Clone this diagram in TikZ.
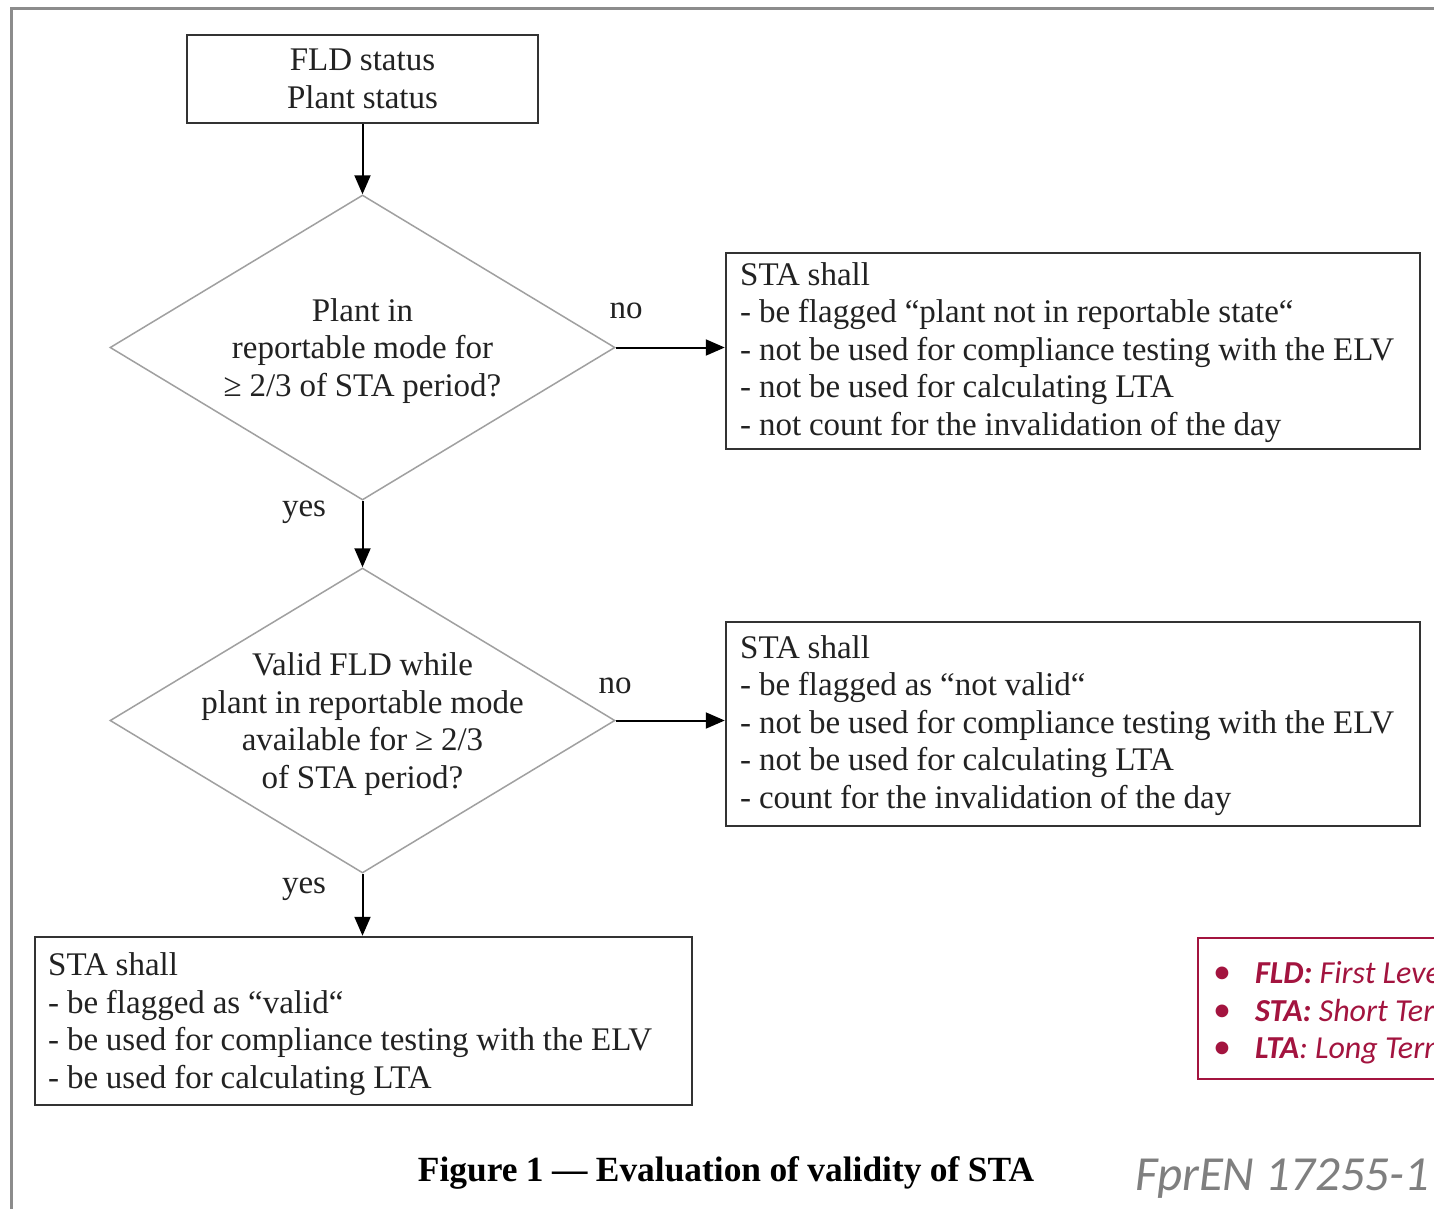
\documentclass[tikz,border=0pt]{standalone}
\usepackage{fontspec}
\setmainfont[WordSpace=0.95]{Liberation Serif}
\newfontfamily\calib{Carlito}
\usetikzlibrary{shapes.geometric,arrows.meta}
\definecolor{txt}{HTML}{222222}
\definecolor{boxc}{HTML}{333333}
\definecolor{dgray}{HTML}{A0A0A0}
\definecolor{frame}{HTML}{8C8C8C}
\definecolor{crim}{HTML}{A3143F}
\definecolor{wm}{HTML}{7F7F7F}
\newcommand\bodyfont{\fontsize{33pt}{37.5pt}\selectfont}
\begin{document}
\begin{tikzpicture}[x=1pt,y=-1pt,
  box/.style={draw=boxc, line width=2.5pt, inner sep=0pt, font=\bodyfont, text=txt},
  btext/.style={font=\bodyfont, text=txt, align=left, inner sep=0pt, anchor=west},
  decision/.style={diamond, draw=dgray, line width=1.5pt, minimum width=505pt, minimum height=305pt, inner sep=0pt, aspect=1.656},
  dtext/.style={font=\bodyfont, text=txt, align=center, inner sep=0pt},
  lbl/.style={font=\bodyfont, text=txt, inner sep=0pt, anchor=base},
  arr/.style={draw=black, line width=2pt, -{Triangle[length=19pt,width=16pt]}},
  legtxt/.style={font=\calib\fontsize{32pt}{37.5pt}\selectfont\itshape, text=crim, inner sep=0pt, anchor=base west},
  bul/.style={font=\calib\fontsize{36pt}{37.5pt}\selectfont, text=crim, inner sep=0pt, anchor=base}
]
\useasboundingbox (0,0) rectangle (1434,1208);
\clip (0,0) rectangle (1434,1208);
\fill[white] (0,0) rectangle (1434,1208);
% outer frame
\draw[frame, line width=3pt] (11,1220) -- (11,8) -- (1450,8);

% boxes
\node[box, align=center, minimum width=351pt, minimum height=88pt] (b1) at (362.5,79) {FLD status\\Plant status};
\node[box, minimum width=694pt, minimum height=196pt] (b2) at (1073,351) {};
\node[btext] (b2t) at (740,352.5) {STA shall\\
- be flagged “plant not in reportable state“\\
- not be used for compliance testing with the ELV\\
- not be used for calculating LTA\\
- not count for the invalidation of the day};
\node[box, minimum width=694pt, minimum height=204pt] (b3) at (1073,724) {};
\node[btext] (b3t) at (740,725.5) {STA shall\\
- be flagged as “not valid“\\
- not be used for compliance testing with the ELV\\
- not be used for calculating LTA\\
- count for the invalidation of the day};
\node[box, minimum width=657pt, minimum height=168pt] (b4) at (363.5,1021) {};
\node[btext] (b4t) at (48,1024) {STA shall\\
- be flagged as “valid“\\
- be used for compliance testing with the ELV\\
- be used for calculating LTA};

% decisions
\node[decision] (d1) at (362.5,347.5) {};
\node[dtext] (d1t) at (362.5,351) {Plant in\\reportable mode for\\≥ 2/3 of STA period?};
\node[decision] (d2) at (362.5,720.5) {};
\node[dtext] (d2t) at (362.5,724) {Valid FLD while\\plant in reportable mode\\available for ≥ 2/3\\of STA period?};

% labels
\node[lbl] (no1) at (626,318) {no};
\node[lbl] (no2) at (615,693) {no};
\node[lbl] (yes1) at (304,516) {yes};
\node[lbl] (yes2) at (304,893) {yes};

% arrows
\draw[arr] (b1.south) -- (d1.north);
\draw[arr] (d1.east) -- (d1.east -| b2.west);
\draw[arr] (d1.south) -- (d2.north);
\draw[arr] (d2.east) -- (d2.east -| b3.west);
\draw[arr] (d2.south) -- (d2.south |- b4.north);

% legend
\draw[crim, line width=2pt] (1450,938) -- (1198,938) -- (1198,1079) -- (1450,1079);
\node[bul] (lb1) at (1222,983) {•};
\node[bul] (lb2) at (1222,1021) {•};
\node[bul] (lb3) at (1222,1058) {•};
\node[legtxt] (lt1) at (1255,983) {\textbf{FLD:} First Level};
\node[legtxt] (lt2) at (1255,1021) {\textbf{STA:} Short Term};
\node[legtxt] (lt3) at (1255,1058) {\textbf{LTA}: Long Term};

% caption
\node[font=\fontsize{35.4pt}{40pt}\selectfont\bfseries, text=black, inner sep=0pt, anchor=base] (cap) at (726,1181) {Figure 1 — Evaluation of validity of STA};
\node[font=\calib\fontsize{49pt}{55pt}\selectfont\itshape, text=wm, inner sep=0pt, anchor=base west] (wmk) at (1135,1190) {FprEN 17255-1};
\end{tikzpicture}
\end{document}
